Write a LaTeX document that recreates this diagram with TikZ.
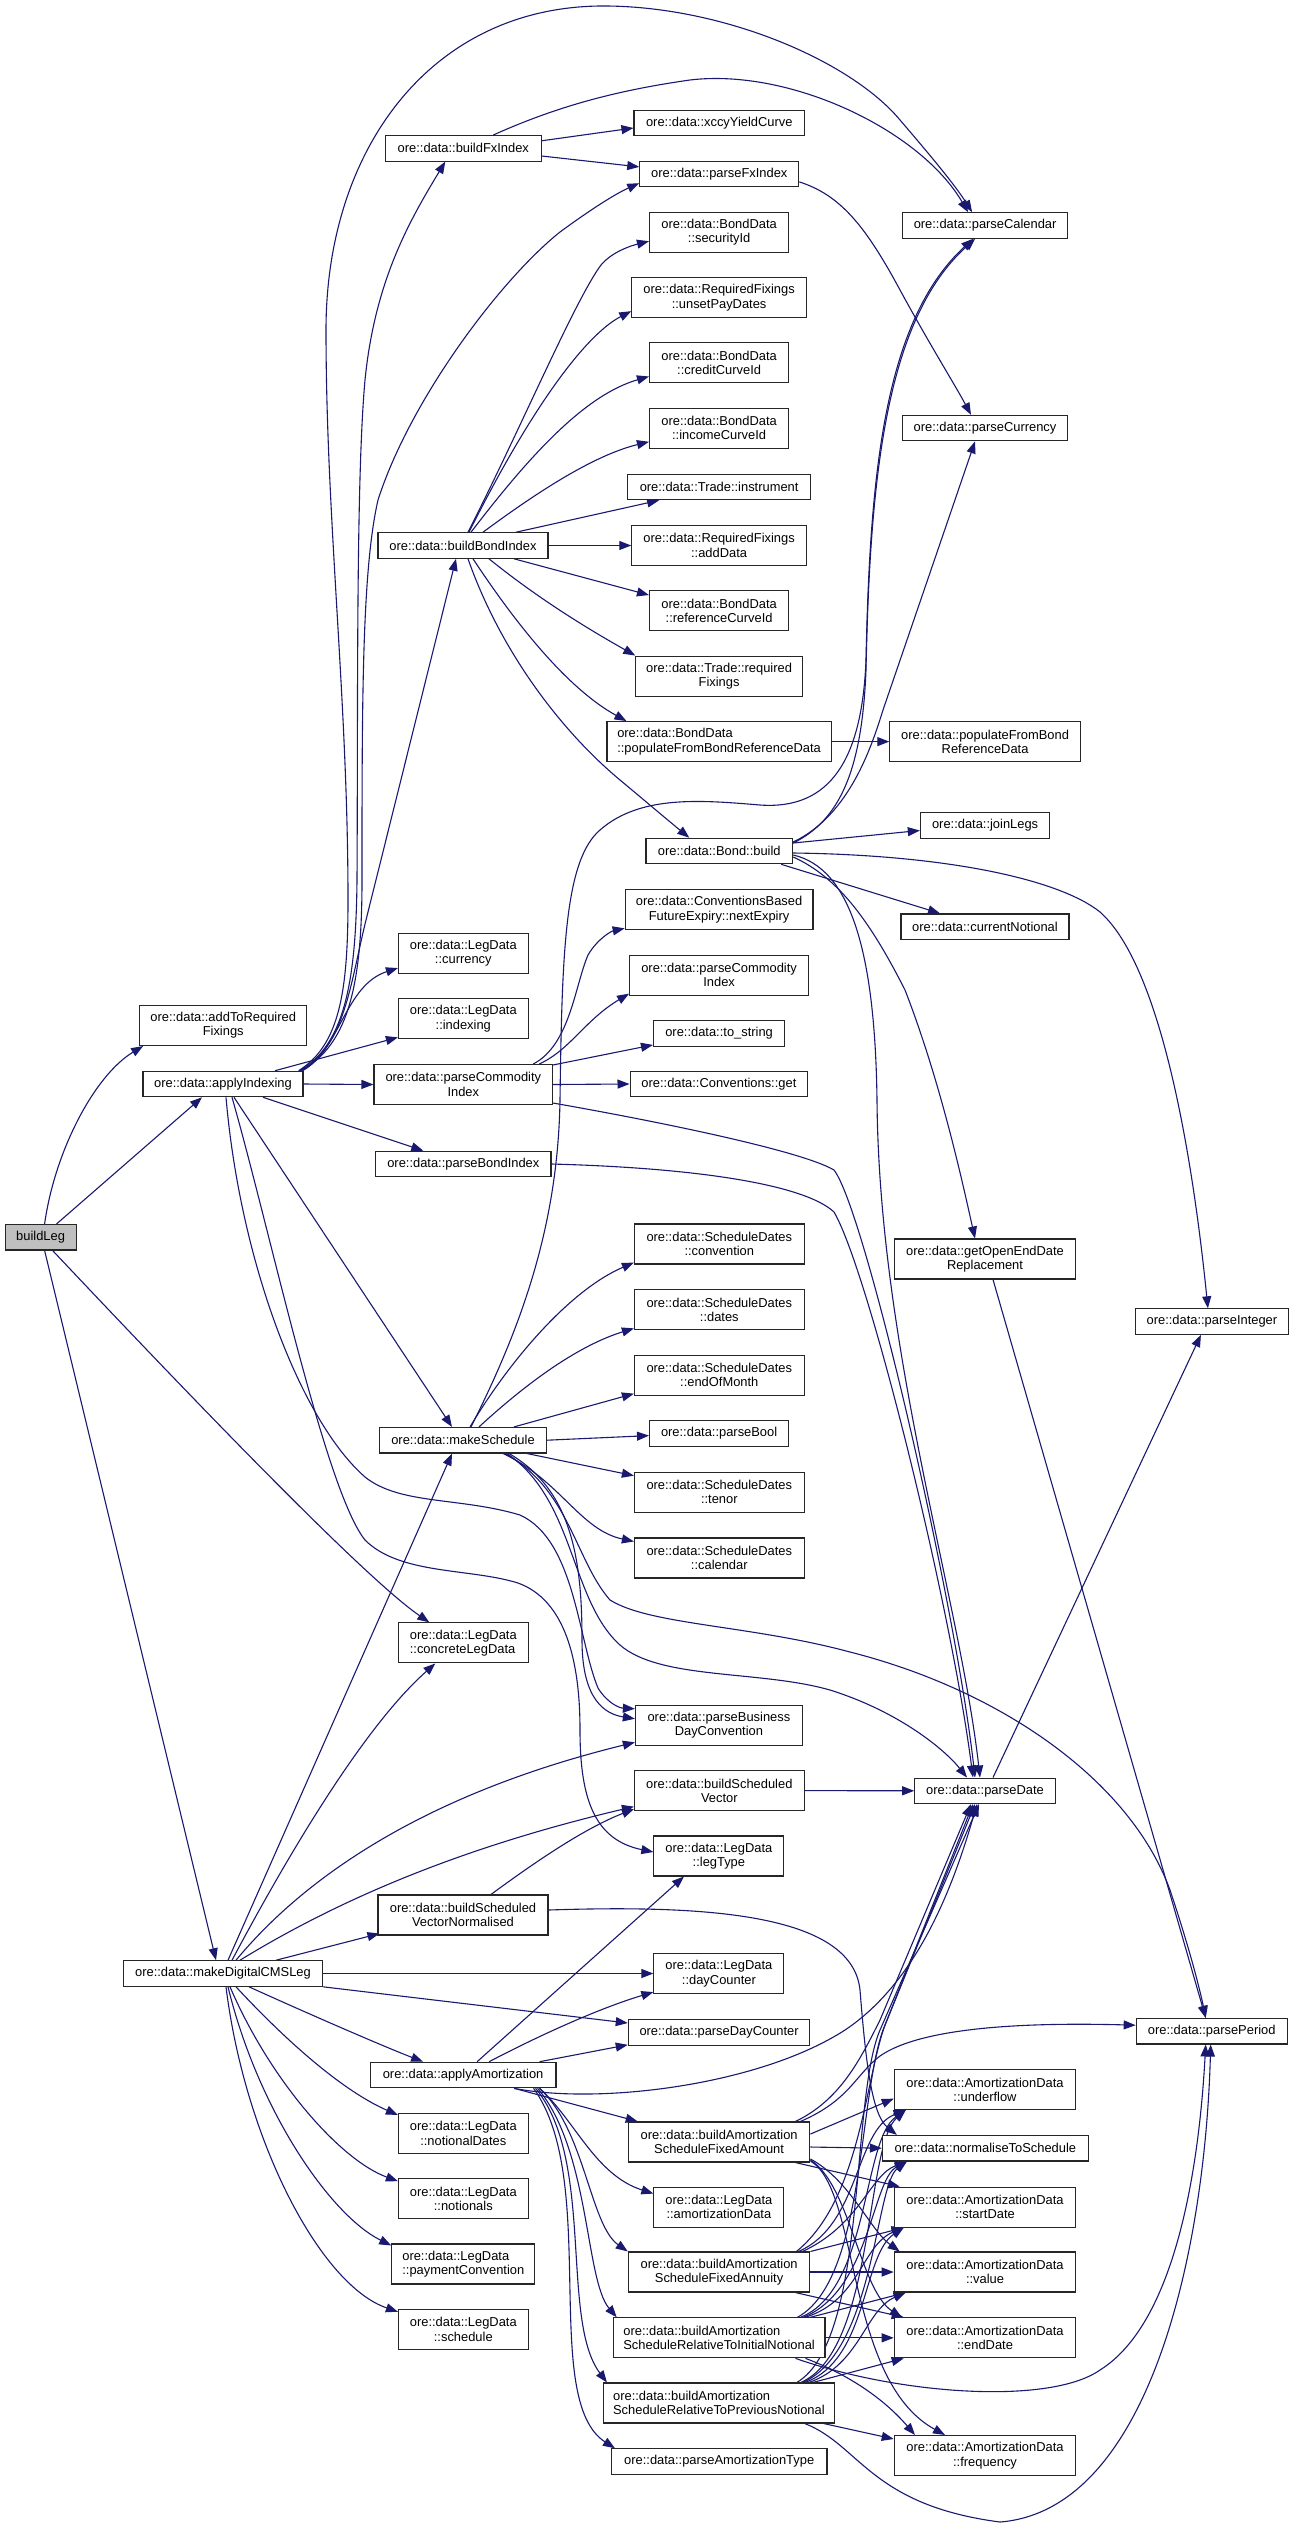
\documentclass[tikz,border=0pt]{standalone}
\usepackage{fontspec}
\setmainfont{Liberation Sans}
\usetikzlibrary{arrows.meta}
\definecolor{edgecol}{HTML}{191970}
\pgfdeclarelayer{bg}
\pgfsetlayers{bg,main}
\begin{document}
\begin{tikzpicture}[x=1pt,y=-1pt,
  nd/.style={draw=black!85,line width=1.1pt,fill=white,inner sep=0pt,font=\fontsize{12.9}{14.3}\selectfont,align=center},
  nodeA/.style={nd,minimum height=25.5pt},
  nodeB/.style={nd,minimum height=40pt},
  edg/.style={draw=edgecol,line width=1.1pt,-{Triangle[length=12pt,width=9pt]}}]
\useasboundingbox (0,0) rectangle (1293,2529);
\begin{pgfonlayer}{bg}\fill[white] (0,0) rectangle (1293,2529);\end{pgfonlayer}
% column 1-2
\node[nodeA,minimum width=71pt,fill=black!25] (buildLeg) at (40.6,1237.2) {buildLeg};
\node[nodeB,minimum width=167pt] (addReq) at (223.2,1025.5) {ore::data::addToRequired\\Fixings};
\node[nodeA,minimum width=160pt] (applyIndexing) at (223,1084) {ore::data::applyIndexing};
\node[nodeA,minimum width=199pt] (makeDigitalCMSLeg) at (223,1973.5) {ore::data::makeDigitalCMSLeg};
% column 3
\node[nodeA,minimum width=155.5pt] (buildFxIndex) at (463.3,148.3) {ore::data::buildFxIndex};
\node[nodeA,minimum width=170pt] (buildBondIndex) at (463,545.5) {ore::data::buildBondIndex};
\node[nodeB,minimum width=129.7pt] (currencyLD) at (463.3,953.5) {ore::data::LegData\\::currency};
\node[nodeB,minimum width=129.7pt] (indexingLD) at (463.3,1018.8) {ore::data::LegData\\::indexing};
\node[nodeB,minimum width=178.6pt] (pciA) at (463.3,1084.5) {ore::data::parseCommodity\\Index};
\node[nodeA,minimum width=175.4pt] (parseBondIndex) at (463.3,1164) {ore::data::parseBondIndex};
\node[nodeA,minimum width=166.7pt] (makeSchedule) at (463,1440.2) {ore::data::makeSchedule};
\node[nodeB,minimum width=129.7pt,align=left] (concreteLD) at (463.3,1642.9) {ore::data::LegData\\::concreteLegData};
\node[nodeB,minimum width=170pt] (bsvn) at (463,1915) {ore::data::buildScheduled\\VectorNormalised};
\node[nodeA,minimum width=185.8pt] (applyAmortization) at (463.1,2075) {ore::data::applyAmortization};
\node[nodeB,minimum width=129.7pt] (notionalDates) at (463.3,2133.5) {ore::data::LegData\\::notionalDates};
\node[nodeB,minimum width=129.7pt] (notionals) at (463.3,2198.7) {ore::data::LegData\\::notionals};
\node[nodeB,minimum width=143pt,align=left] (paymentConvention) at (463.3,2264) {ore::data::LegData\\::paymentConvention};
\node[nodeB,minimum width=129.7pt] (scheduleLD) at (463.3,2329.3) {ore::data::LegData\\::schedule};
% column 4
\node[nodeA,minimum width=170.6pt] (xccy) at (719.3,123) {ore::data::xccyYieldCurve};
\node[nodeA,minimum width=159pt] (parseFxIndex) at (719.3,173.9) {ore::data::parseFxIndex};
\node[nodeB,minimum width=139.2pt] (securityId) at (719.1,232.2) {ore::data::BondData\\::securityId};
\node[nodeB,minimum width=174.6pt] (unsetPayDates) at (719.1,297.6) {ore::data::RequiredFixings\\::unsetPayDates};
\node[nodeB,minimum width=139.2pt] (creditCurveId) at (719.1,362.9) {ore::data::BondData\\::creditCurveId};
\node[nodeB,minimum width=139.2pt] (incomeCurveId) at (719.1,428.2) {ore::data::BondData\\::incomeCurveId};
\node[nodeA,minimum width=183.4pt] (instrument) at (719.1,487) {ore::data::Trade::instrument};
\node[nodeB,minimum width=174.6pt] (addData) at (719.1,545.5) {ore::data::RequiredFixings\\::addData};
\node[nodeB,minimum width=139.2pt] (referenceCurveId) at (719.1,610.6) {ore::data::BondData\\::referenceCurveId};
\node[nodeB,minimum width=166.6pt] (requiredFixings) at (719.1,676.1) {ore::data::Trade::required\\Fixings};
\node[nodeB,minimum width=224.2pt,align=left] (bdPopulate) at (719.1,741.6) {ore::data::BondData\\::populateFromBondReferenceData};
\node[nodeA,minimum width=146.7pt] (bondBuild) at (719.3,851) {ore::data::Bond::build};
\node[nodeB,minimum width=187.8pt] (nextExpiry) at (719.1,909.8) {ore::data::ConventionsBased\\FutureExpiry::nextExpiry};
\node[nodeB,minimum width=179pt] (pciB) at (719.1,975.1) {ore::data::parseCommodity\\Index};
\node[nodeA,minimum width=131.2pt] (toString) at (719.1,1033.6) {ore::data::to\_string};
\node[nodeA,minimum width=177.7pt] (convGet) at (718.9,1084) {ore::data::Conventions::get};
\node[nodeB,minimum width=169.7pt] (sdConvention) at (719.3,1244) {ore::data::ScheduleDates\\::convention};
\node[nodeB,minimum width=169.7pt] (sdDates) at (719.3,1309.8) {ore::data::ScheduleDates\\::dates};
\node[nodeB,minimum width=169.7pt] (sdEndOfMonth) at (719.3,1375.1) {ore::data::ScheduleDates\\::endOfMonth};
\node[nodeA,minimum width=139.2pt] (parseBool) at (719.1,1433.6) {ore::data::parseBool};
\node[nodeB,minimum width=169.7pt] (sdTenor) at (719.3,1492.2) {ore::data::ScheduleDates\\::tenor};
\node[nodeB,minimum width=169.7pt] (sdCalendar) at (719.3,1558) {ore::data::ScheduleDates\\::calendar};
\node[nodeB,minimum width=167pt] (parseBDC) at (718.9,1725.3) {ore::data::parseBusiness\\DayConvention};
\node[nodeB,minimum width=169.7pt] (bsv) at (719.3,1790.6) {ore::data::buildScheduled\\Vector};
\node[nodeB,minimum width=130pt] (legType) at (718.9,1856) {ore::data::LegData\\::legType};
\node[nodeB,minimum width=130pt] (dayCounter) at (718.9,1973.5) {ore::data::LegData\\::dayCounter};
\node[nodeA,minimum width=181.6pt] (parseDayCounter) at (719.1,2032.5) {ore::data::parseDayCounter};
\node[nodeB,minimum width=181.6pt] (bFixedAmount) at (719.1,2142) {ore::data::buildAmortization\\ScheduleFixedAmount};
\node[nodeB,minimum width=130pt] (amortizationData) at (718.9,2207.1) {ore::data::LegData\\::amortizationData};
\node[nodeB,minimum width=181.6pt] (bFixedAnnuity) at (719.1,2272) {ore::data::buildAmortization\\ScheduleFixedAnnuity};
\node[nodeB,minimum width=211.7pt,align=left] (bRelInitial) at (719.1,2337.8) {ore::data::buildAmortization\\ScheduleRelativeToInitialNotional};
\node[nodeB,minimum width=230.8pt,align=left] (bRelPrev) at (718.9,2403) {ore::data::buildAmortization\\ScheduleRelativeToPreviousNotional};
\node[nodeA,minimum width=215.5pt] (parseAmortizationType) at (719.2,2461.5) {ore::data::parseAmortizationType};
% column 5
\node[nodeA,minimum width=165pt] (parseCalendar) at (985.1,225.5) {ore::data::parseCalendar};
\node[nodeA,minimum width=165.3pt] (parseCurrency) at (985,428.1) {ore::data::parseCurrency};
\node[nodeB,minimum width=190.5pt] (populateFBRD) at (985.1,741.6) {ore::data::populateFromBond\\ReferenceData};
\node[nodeA,minimum width=129.5pt] (joinLegs) at (985.1,825.5) {ore::data::joinLegs};
\node[nodeA,minimum width=168pt] (currentNotional) at (985,926.7) {ore::data::currentNotional};
\node[nodeB,minimum width=180.3pt] (getOpenEndDate) at (985,1259) {ore::data::getOpenEndDate\\Replacement};
\node[nodeA,minimum width=140.5pt] (parseDate) at (985,1790.8) {ore::data::parseDate};
\node[nodeB,minimum width=181.5pt] (underflow) at (985,2089.6) {ore::data::AmortizationData\\::underflow};
\node[nodeA,minimum width=206pt] (normaliseToSchedule) at (985.4,2148.2) {ore::data::normaliseToSchedule};
\node[nodeB,minimum width=181.5pt] (startDate) at (985,2207.1) {ore::data::AmortizationData\\::startDate};
\node[nodeB,minimum width=181.5pt] (adValue) at (985,2272) {ore::data::AmortizationData\\::value};
\node[nodeB,minimum width=181.5pt] (adEndDate) at (985,2337.8) {ore::data::AmortizationData\\::endDate};
\node[nodeB,minimum width=181.5pt] (frequency) at (985,2455.5) {ore::data::AmortizationData\\::frequency};
% column 6
\node[nodeA,minimum width=152.4pt] (parseInteger) at (1211.9,1321.6) {ore::data::parseInteger};
\node[nodeA,minimum width=151pt] (parsePeriod) at (1211.7,2031.2) {ore::data::parsePeriod};

\begin{pgfonlayer}{bg}
% buildLeg
\draw[edg] ([xshift=4pt]buildLeg.north) .. controls (55,1150) and (95,1075) .. ([xshift=4pt]addReq.south west);
\draw[edg] ([xshift=16pt]buildLeg.north) -- ([xshift=-21pt]applyIndexing.south);
\draw[edg] ([xshift=12pt]buildLeg.south) .. controls (250,1460) and (375,1585) .. ([xshift=-34pt]concreteLD.north);
\draw[edg] ([xshift=4pt]buildLeg.south) -- ([xshift=-7pt]makeDigitalCMSLeg.north);
% applyIndexing
\draw[edg] ([xshift=-5pt]applyIndexing.north east) .. controls (340,1045) and (348,990) .. (348,900) .. controls (348,700) and (326,520) .. (326,330) .. controls (326,150) and (430,8) .. (600,6) .. controls (720,5) and (850,60) .. (900,120) .. controls (930,155) and (955,185) .. ([xshift=-13pt]parseCalendar.north);
\draw[edg] ([xshift=-4pt]applyIndexing.north east) .. controls (345,1045) and (356,980) .. (357,880) .. controls (358,700) and (356,480) .. (365,380) .. controls (375,280) and (410,220) .. ([xshift=-18pt]buildFxIndex.south);
\draw[edg] ([xshift=-3pt]applyIndexing.north east) .. controls (350,1045) and (362,980) .. (362,880) .. controls (362,700) and (362,570) .. (378,500) .. controls (410,400) and (500,280) .. (560,232) .. controls (590,210) and (615,194) .. ([yshift=4pt]parseFxIndex.south west);
\draw[edg] ([xshift=-2pt]applyIndexing.north east) .. controls (345,1045) and (350,985) .. (366,920) -- ([xshift=-7pt]buildBondIndex.south);
\draw[edg] ([xshift=-1pt]applyIndexing.north east) .. controls (340,1050) and (345,985) .. ([yshift=6pt]currencyLD.south west);
\draw[edg] ([xshift=52pt]applyIndexing.north) -- ([yshift=2pt]indexingLD.south west);
\draw[edg] (applyIndexing.east) -- (pciA.west);
\draw[edg] ([xshift=40pt]applyIndexing.south) -- ([xshift=-40pt]parseBondIndex.north);
\draw[edg] ([xshift=11pt]applyIndexing.south) -- ([xshift=-11pt]makeSchedule.north);
\draw[edg] ([xshift=3pt]applyIndexing.south) .. controls (240,1260) and (300,1420) .. (365,1477) .. controls (400,1505) and (460,1497) .. (520,1515) .. controls (575,1540) and (578,1640) .. (598,1688) .. controls (608,1704) and (620,1708) .. ([yshift=-4pt]parseBDC.north west);
\draw[edg] ([xshift=9pt]applyIndexing.south) .. controls (270,1230) and (325,1490) .. (365,1540) .. controls (400,1575) and (470,1568) .. (518,1583) .. controls (565,1600) and (580,1660) .. (580,1730) .. controls (580,1800) and (595,1840) .. ([yshift=4pt]legType.west);
% makeSchedule
\draw[edg] ([xshift=7pt]makeSchedule.north) .. controls (510,1360) and (570,1290) .. ([yshift=2pt]sdConvention.south west);
\draw[edg] ([xshift=16pt]makeSchedule.north) .. controls (530,1380) and (580,1345) .. ([yshift=2pt]sdDates.south west);
\draw[edg] ([xshift=51pt]makeSchedule.north) -- ([yshift=2pt]sdEndOfMonth.south west);
\draw[edg] (makeSchedule.east) -- ([yshift=-2pt]parseBool.west);
\draw[edg] ([xshift=-20pt]makeSchedule.south east) -- ([yshift=-4pt]sdTenor.north west);
\draw[edg] ([xshift=40pt]makeSchedule.south) .. controls (560,1480) and (580,1530) .. ([yshift=-4pt]sdCalendar.north west);
\draw[edg] ([xshift=8pt]makeSchedule.north) .. controls (525,1320) and (558,1220) .. (560,1100) .. controls (562,950) and (565,860) .. (600,830) .. controls (640,795) and (700,800) .. (760,805) .. controls (830,810) and (862,760) .. (866,660) .. controls (870,470) and (885,320) .. ([xshift=-12pt]parseCalendar.south);
\draw[edg] ([xshift=42pt]makeSchedule.south) .. controls (570,1490) and (575,1560) .. (610,1600) .. controls (650,1625) and (750,1625) .. (850,1652) .. controls (1000,1690) and (1130,1780) .. (1170,1890) .. controls (1190,1950) and (1200,1990) .. ([xshift=-6pt]parsePeriod.north);
\draw[edg] ([xshift=44pt]makeSchedule.south) .. controls (575,1500) and (570,1600) .. (620,1645) .. controls (660,1680) and (760,1670) .. (830,1690) .. controls (900,1712) and (945,1750) .. ([xshift=-18pt]parseDate.north);
\draw[edg] ([xshift=46pt]makeSchedule.south) .. controls (572,1490) and (582,1560) .. (582,1640) .. controls (582,1700) and (605,1714) .. ([yshift=-14pt]parseBDC.north west);
% buildFxIndex
\draw[edg] ([yshift=7.5pt]buildFxIndex.east) -- ([yshift=-5pt]xccy.west);
\draw[edg] ([yshift=-7.7pt]buildFxIndex.east) -- ([yshift=7pt]parseFxIndex.west);
\draw[edg] ([xshift=30pt]buildFxIndex.north) .. controls (560,105) and (620,90) .. (690,80) .. controls (790,68) and (920,130) .. ([xshift=-17pt]parseCalendar.north);
\draw[edg] ([yshift=-8pt]parseFxIndex.east) .. controls (840,195) and (865,225) .. (900,290) .. controls (930,345) and (955,385) .. ([xshift=-14pt]parseCurrency.north);
% buildBondIndex
\draw[edg] ([xshift=5pt]buildBondIndex.north) .. controls (520,430) and (575,300) .. (601,265) .. controls (612,252) and (630,246) .. ([yshift=-9pt]securityId.west);
\draw[edg] ([xshift=6pt]buildBondIndex.north) .. controls (530,410) and (585,335) .. ([yshift=7pt]unsetPayDates.south west);
\draw[edg] ([xshift=8pt]buildBondIndex.north) .. controls (530,455) and (585,395) .. ([yshift=7pt]creditCurveId.south west);
\draw[edg] ([xshift=20pt]buildBondIndex.north) .. controls (540,490) and (595,455) .. ([yshift=7pt]incomeCurveId.south west);
\draw[edg] ([xshift=53pt]buildBondIndex.north) -- ([xshift=-60pt]instrument.south);
\draw[edg] (buildBondIndex.east) -- (addData.west);
\draw[edg] ([xshift=51pt]buildBondIndex.south) -- ([yshift=-5pt]referenceCurveId.north west);
\draw[edg] ([xshift=26pt]buildBondIndex.south) .. controls (540,600) and (590,630) .. (requiredFixings.north west);
\draw[edg] ([xshift=10pt]buildBondIndex.south) .. controls (520,630) and (570,690) .. ([xshift=20pt]bdPopulate.north west);
\draw[edg] ([xshift=5pt]buildBondIndex.south) .. controls (500,650) and (560,730) .. (620,780) .. controls (650,805) and (670,822) .. ([xshift=-30pt]bondBuild.north);
\draw[edg] (bdPopulate.east) -- (populateFBRD.west);
% Bond::build
\draw[edg] ([yshift=8pt]bondBuild.east) .. controls (840,820) and (862,770) .. (866,670) .. controls (870,480) and (885,320) .. ([xshift=-10pt]parseCalendar.south);
\draw[edg] ([yshift=9pt]bondBuild.east) .. controls (850,815) and (872,745) .. (883,710) -- ([xshift=-10pt]parseCurrency.south);
\draw[edg] ([yshift=8pt]bondBuild.east) -- ([yshift=-5pt]joinLegs.west);
\draw[edg] ([xshift=-12pt]bondBuild.south east) -- ([xshift=-45pt]currentNotional.north);
\draw[edg] ([yshift=-6pt]bondBuild.east) .. controls (840,878) and (872,925) .. (905,990) .. controls (940,1080) and (962,1180) .. ([xshift=-10pt]getOpenEndDate.north);
\draw[edg] ([yshift=-4pt]bondBuild.east) .. controls (850,868) and (875,950) .. (877,1100) .. controls (879,1350) and (960,1600) .. ([xshift=-5pt]parseDate.north);
\draw[edg] ([yshift=-2pt]bondBuild.east) .. controls (950,855) and (1060,880) .. (1100,912) .. controls (1160,965) and (1192,1150) .. ([xshift=-4pt]parseInteger.north);
% parseCommodityIndex
\draw[edg] ([xshift=70pt]pciA.north) .. controls (570,1045) and (575,985) .. (588,955) .. controls (598,938) and (612,931) .. ([yshift=2pt]nextExpiry.south west);
\draw[edg] ([xshift=76pt]pciA.north) .. controls (570,1050) and (585,1020) .. ([yshift=2pt]pciB.south west);
\draw[edg] ([yshift=-1pt]pciA.north east) -- ([yshift=2pt]toString.south west);
\draw[edg] (pciA.east) -- (convGet.west);
\draw[edg] ([yshift=2pt]pciA.south east) .. controls (650,1120) and (800,1150) .. (834,1170) .. controls (865,1210) and (955,1600) .. ([xshift=-10pt]parseDate.north);
\draw[edg] (parseBondIndex.east) .. controls (700,1168) and (805,1185) .. (834,1212) .. controls (868,1270) and (950,1600) .. ([xshift=-12pt]parseDate.north);
% misc
\draw[edg] ([xshift=8pt]getOpenEndDate.south) -- ([xshift=-6pt]parsePeriod.north);
\draw[edg] ([xshift=8pt]parseDate.north) -- ([xshift=-11pt]parseInteger.south);
\draw[edg] (bsv.east) -- (parseDate.west);
% makeDigitalCMSLeg
\draw[edg] ([xshift=5pt]makeDigitalCMSLeg.north) -- ([xshift=-11pt]makeSchedule.south);
\draw[edg] ([xshift=9pt]makeDigitalCMSLeg.north) .. controls (280,1870) and (360,1730) .. ([xshift=-28pt]concreteLD.south);
\draw[edg] ([xshift=13pt]makeDigitalCMSLeg.north) .. controls (290,1895) and (400,1800) .. ([yshift=-17pt]parseBDC.west);
\draw[edg] ([xshift=17pt]makeDigitalCMSLeg.north) .. controls (330,1905) and (450,1850) .. ([yshift=-16pt]bsv.west);
\draw[edg] ([xshift=53pt]makeDigitalCMSLeg.north) -- ([xshift=2pt,yshift=2pt]bsvn.south west);
\draw[edg] (makeDigitalCMSLeg.east) -- (dayCounter.west);
\draw[edg] (makeDigitalCMSLeg.south east) -- ([yshift=9.5pt]parseDayCounter.west);
\draw[edg] ([xshift=26pt]makeDigitalCMSLeg.south) .. controls (300,2010) and (380,2045) .. ([xshift=-40pt]applyAmortization.north);
\draw[edg] ([xshift=13pt]makeDigitalCMSLeg.south) .. controls (290,2045) and (345,2092) .. ([yshift=-2pt]notionalDates.north west);
\draw[edg] ([xshift=7pt]makeDigitalCMSLeg.south) .. controls (270,2080) and (340,2160) .. ([yshift=-3pt]notionals.north west);
\draw[edg] ([xshift=5pt]makeDigitalCMSLeg.south) .. controls (258,2110) and (330,2215) .. ([yshift=-2pt]paymentConvention.north west);
\draw[edg] ([xshift=3pt]makeDigitalCMSLeg.south) .. controls (245,2140) and (320,2285) .. ([yshift=-3pt]scheduleLD.north west);
% buildScheduledVectorNormalised
\draw[edg] ([xshift=28pt]bsvn.north) .. controls (535,1862) and (585,1828) .. ([yshift=-18.5pt]bsv.west);
\draw[edg] ([yshift=5pt]bsvn.east) .. controls (700,1905) and (852,1912) .. (860,1990) .. controls (866,2065) and (872,2115) .. ([xshift=15pt]normaliseToSchedule.north west);
% applyAmortization
\draw[edg] ([xshift=14pt]applyAmortization.north) -- ([xshift=-35pt]legType.south);
\draw[edg] ([xshift=26pt]applyAmortization.north) .. controls (540,2035) and (600,2008) .. ([yshift=2pt]dayCounter.south west);
\draw[edg] ([xshift=-17pt]applyAmortization.north east) -- ([yshift=1pt]parseDayCounter.south west);
\draw[edg] ([xshift=51pt]applyAmortization.south) .. controls (600,2105) and (760,2085) .. (845,2030) .. controls (920,1980) and (955,1880) .. ([xshift=-8pt]parseDate.south);
\draw[edg] ([xshift=51pt]applyAmortization.south) -- ([xshift=10pt]bFixedAmount.north west);
\draw[edg] ([xshift=-17pt]applyAmortization.south east) .. controls (575,2120) and (595,2175) .. ([yshift=-7pt]amortizationData.north west);
\draw[edg] ([xshift=-17pt]applyAmortization.south east) .. controls (585,2130) and (590,2225) .. (bFixedAnnuity.north west);
\draw[edg] ([xshift=-19pt]applyAmortization.south east) .. controls (590,2150) and (585,2280) .. ([xshift=4pt]bRelInitial.north west);
\draw[edg] ([xshift=-21pt]applyAmortization.south east) .. controls (595,2160) and (560,2320) .. ([xshift=4pt]bRelPrev.north west);
\draw[edg] ([xshift=-23pt]applyAmortization.south east) .. controls (600,2180) and (540,2400) .. ([xshift=4pt]parseAmortizationType.north west);
% buildAmortizationScheduleFixedAmount
\draw[edg] ([yshift=8pt]bFixedAmount.east) -- ([yshift=-9pt]underflow.west);
\draw[edg] ([yshift=-5pt]bFixedAmount.east) -- (normaliseToSchedule.west);
\draw[edg] ([xshift=-15pt]bFixedAmount.south east) -- ([xshift=6pt]startDate.north west);
\draw[edg] ([yshift=-17pt]bFixedAmount.east) .. controls (850,2180) and (870,2230) .. ([xshift=6pt]adValue.north west);
\draw[edg] ([yshift=-18pt]bFixedAmount.east) .. controls (850,2185) and (860,2290) .. ([xshift=8pt]adEndDate.north west);
\draw[edg] ([yshift=-19pt]bFixedAmount.east) .. controls (860,2190) and (845,2380) .. ([xshift=-40pt]frequency.north);
\draw[edg] ([xshift=-15pt]bFixedAmount.north east) .. controls (840,2100) and (860,2060) .. (880,2020) -- ([xshift=-14pt]parseDate.south);
\draw[edg] ([xshift=-10pt]bFixedAmount.north east) .. controls (850,2100) and (855,2075) .. (880,2056) .. controls (920,2028) and (1020,2022) .. ([yshift=6pt]parsePeriod.west);
% buildAmortizationScheduleFixedAnnuity
\draw[edg] ([xshift=-12pt]bFixedAnnuity.north east) .. controls (860,2225) and (855,2130) .. ([xshift=12pt]underflow.south west);
\draw[edg] ([xshift=-8pt]bFixedAnnuity.north east) .. controls (860,2225) and (870,2175) .. ([xshift=25pt]normaliseToSchedule.south west);
\draw[edg] (bFixedAnnuity.north east) -- ([xshift=10pt]startDate.south west);
\draw[edg] (bFixedAnnuity.east) -- (adValue.west);
\draw[edg] ([xshift=-15pt]bFixedAnnuity.south east) -- ([xshift=10pt]adEndDate.north west);
\draw[edg] ([xshift=-14pt]bFixedAnnuity.north east) .. controls (860,2200) and (865,2080) .. (885,2025) -- ([xshift=-12pt]parseDate.south);
% buildAmortizationScheduleRelativeToInitialNotional
\draw[edg] ([xshift=-25pt]bRelInitial.north east) .. controls (870,2290) and (862,2140) .. ([xshift=12pt]underflow.south west);
\draw[edg] ([xshift=-22pt]bRelInitial.north east) .. controls (870,2290) and (872,2180) .. ([xshift=25pt]normaliseToSchedule.south west);
\draw[edg] ([xshift=-20pt]bRelInitial.north east) .. controls (860,2300) and (862,2245) .. ([xshift=10pt]startDate.south west);
\draw[edg] ([xshift=-15pt]bRelInitial.north east) -- ([xshift=12pt]adValue.south west);
\draw[edg] (bRelInitial.east) -- (adEndDate.west);
\draw[edg] ([xshift=-20pt]bRelInitial.south east) .. controls (850,2375) and (885,2400) .. ([xshift=-70pt]frequency.north);
\draw[edg] ([xshift=-30pt]bRelInitial.south east) .. controls (900,2395) and (1050,2405) .. (1100,2370) .. controls (1180,2320) and (1200,2150) .. ([xshift=-6pt]parsePeriod.south);
\draw[edg] ([xshift=-28pt]bRelInitial.north east) .. controls (865,2280) and (858,2100) .. (883,2030) -- ([xshift=-10pt]parseDate.south);
% buildAmortizationScheduleRelativeToPreviousNotional
\draw[edg] ([xshift=-34pt]bRelPrev.north east) .. controls (875,2350) and (865,2145) .. ([xshift=12pt]underflow.south west);
\draw[edg] ([xshift=-32pt]bRelPrev.north east) .. controls (875,2350) and (875,2185) .. ([xshift=25pt]normaliseToSchedule.south west);
\draw[edg] ([xshift=-30pt]bRelPrev.north east) .. controls (868,2360) and (862,2255) .. ([xshift=10pt]startDate.south west);
\draw[edg] ([xshift=-26pt]bRelPrev.north east) .. controls (860,2365) and (865,2310) .. ([xshift=12pt]adValue.south west);
\draw[edg] ([xshift=-22pt]bRelPrev.north east) -- ([xshift=10pt]adEndDate.south west);
\draw[edg] ([xshift=-11pt]bRelPrev.south east) -- ([yshift=-4pt]frequency.north west);
\draw[edg] ([xshift=-30pt]bRelPrev.south east) .. controls (860,2445) and (870,2505) .. (1000,2522) .. controls (1150,2510) and (1205,2250) .. ([xshift=-1pt]parsePeriod.south);
\draw[edg] ([xshift=-38pt]bRelPrev.north east) .. controls (868,2340) and (850,2100) .. (880,2030) -- ([xshift=-6pt]parseDate.south);
\end{pgfonlayer}
\end{tikzpicture}
\end{document}
